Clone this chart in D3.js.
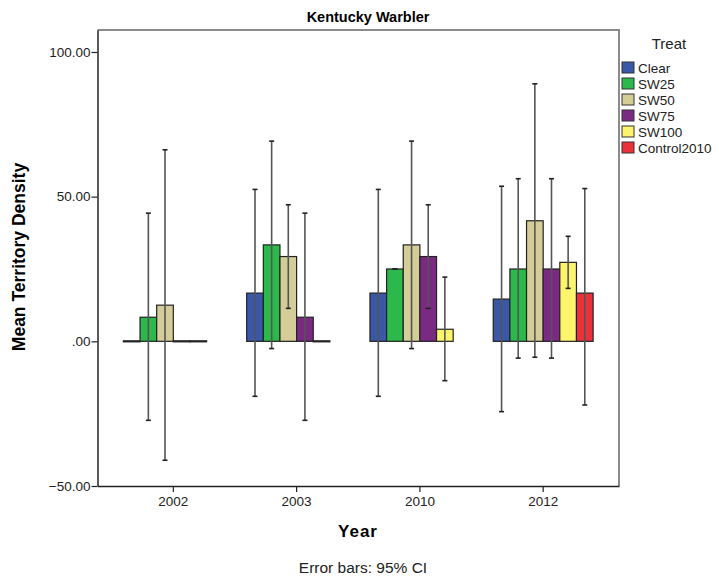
<!DOCTYPE html>
<html>
<head>
<meta charset="utf-8">
<script src="https://cdnjs.cloudflare.com/ajax/libs/d3/7.8.5/d3.min.js"></script>
<style>
    body { margin: 0; background: #fff; }
    text { font-family: Arial, "Liberation Sans", sans-serif; }
</style>
</head>
<body>
<div id="chart"></div>
<script>
// data
var years = ['2002', '2003', '2010', '2012'];
var treats = ['Clear', 'SW25', 'SW50', 'SW75', 'SW100', 'Control2010'];
var treatColors = ['#3A57A8', '#2DB84B', '#D4CD97', '#7B2A84', '#FBF46C', '#EC3039'];

// mean per year, in order of treats (null = no bar)
var means2002 = [0, 8.33, 12.5, 0, 0, null];
var means2003 = [16.67, 33.33, 29.3, 8.33, 0, null];
var means2010 = [16.67, 25, 33.33, 29.3, 4.17, null];
var means2012 = [14.6, 25, 41.67, 25, 27.3, 16.67];

// 95% CI lower / upper (null = no error bar)
var lo2002 = [null, -27.3, -41.1, null, null, null];
var hi2002 = [null, 44.3, 66.2, null, null, null];
var lo2003 = [-19.0, -2.5, 11.4, -27.3, null, null];
var hi2003 = [52.5, 69.2, 47.2, 44.3, null, null];
var lo2010 = [-19.0, 25, -2.5, 11.4, -13.6, null];
var hi2010 = [52.5, 25, 69.2, 47.2, 22.2, null];
var lo2012 = [-24.3, -5.8, -5.5, -5.8, 18.3, -22.0];
var hi2012 = [53.6, 56.2, 89.0, 56.2, 36.3, 52.8];

var yTicks = [-50, 0, 50, 100];

var allMeans = [means2002, means2003, means2010, means2012];
var allLo = [lo2002, lo2003, lo2010, lo2012];
var allHi = [hi2002, hi2003, hi2010, hi2012];

var rows = [];
years.forEach(function (y, i) {
    treats.forEach(function (t, j) {
        if (allMeans[i][j] === null) return;
        rows.push({year: y, treat: t, color: treatColors[j], mean: allMeans[i][j], lo: allLo[i][j], hi: allHi[i][j]});
    });
});

var width = 719, height = 576,
    plotLeft = 97.5, plotRight = 619, plotTop = 30, plotBottom = 486;

var svg = d3.select('#chart').append('svg')
    .attr('width', width)
    .attr('height', height);

var xScale = d3.scaleBand().domain(years).range([plotLeft, plotRight]).paddingInner(0.19).paddingOuter(0.21),
    inner = d3.scaleBand().domain(treats).range([0, xScale.bandwidth()]),
    yScale = d3.scaleLinear().domain([-50, 107.6]).range([plotBottom, plotTop]);

// frame: top and right grey
svg.append('path')
    .attr('d', 'M' + plotLeft + ',' + plotTop + 'H' + plotRight + 'V' + plotBottom)
    .attr('fill', 'none')
    .attr('stroke', '#8a8a8a')
    .attr('stroke-width', 2);

// bars (zero means still show as a flat black bar)
svg.append('g').selectAll('rect')
    .data(rows)
    .enter().append('rect')
    .attr('x', function (d) { return xScale(d.year) + inner(d.treat); })
    .attr('width', inner.bandwidth())
    .attr('y', function (d) { return d.mean === 0 ? yScale(0) - 0.5 : yScale(Math.max(0, d.mean)); })
    .attr('height', function (d) { return Math.max(1, Math.abs(yScale(d.mean) - yScale(0))); })
    .attr('fill', function (d) { return d.mean === 0 ? '#222' : d.color; })
    .attr('stroke', '#222')
    .attr('stroke-width', 1.2);

// error bars
var eb = svg.append('g').selectAll('g')
    .data(rows.filter(function (d) { return d.lo !== null; }))
    .enter().append('g')
    .attr('stroke', '#555')
    .attr('stroke-width', 1.6);

eb.append('line')
    .attr('x1', function (d) { return xScale(d.year) + inner(d.treat) + inner.bandwidth() / 2; })
    .attr('x2', function (d) { return xScale(d.year) + inner(d.treat) + inner.bandwidth() / 2; })
    .attr('y1', function (d) { return yScale(d.lo); })
    .attr('y2', function (d) { return yScale(d.hi); });

['lo', 'hi'].forEach(function (k) {
    eb.append('line')
        .attr('x1', function (d) { return xScale(d.year) + inner(d.treat) + inner.bandwidth() / 2 - 2.5; })
        .attr('x2', function (d) { return xScale(d.year) + inner(d.treat) + inner.bandwidth() / 2 + 2.5; })
        .attr('y1', function (d) { return yScale(d[k]); })
        .attr('y2', function (d) { return yScale(d[k]); })
        .attr('stroke', '#222');
});

// axes
var yAxis = d3.axisLeft(yScale).tickValues(yTicks).tickSize(6).tickSizeOuter(0)
    .tickFormat(function (d) { return d === 0 ? '.00' : d3.format('.2f')(d); });
var gy = svg.append('g')
    .attr('transform', 'translate(' + plotLeft + ',0)')
    .call(yAxis);
gy.select('.domain').attr('stroke', '#222').attr('stroke-width', 1.5);
gy.selectAll('.tick line').attr('stroke', '#222').attr('stroke-width', 1.2);
gy.selectAll('.tick text').attr('font-size', 13.5).attr('fill', '#222').attr('x', -7);

var xAxis = d3.axisBottom(xScale).tickSize(6).tickSizeOuter(0);
var gx = svg.append('g')
    .attr('transform', 'translate(0,' + plotBottom + ')')
    .call(xAxis);
gx.select('.domain').attr('stroke', '#222').attr('stroke-width', 1.5);
gx.selectAll('.tick line').attr('stroke', '#222').attr('stroke-width', 1.2);
gx.selectAll('.tick text').attr('font-size', 13.5).attr('fill', '#222').attr('y', 10);

// titles
svg.append('text')
    .attr('x', 368).attr('y', 22)
    .attr('text-anchor', 'middle')
    .attr('font-size', 14.5).attr('font-weight', 'bold')
    .text('Kentucky Warbler');

svg.append('text')
    .attr('transform', 'translate(25,' + 257 + ') rotate(-90)')
    .attr('text-anchor', 'middle')
    .attr('font-size', 17.5).attr('font-weight', 'bold')
    .text('Mean Territory Density');

svg.append('text')
    .attr('x', 358).attr('y', 537)
    .attr('text-anchor', 'middle')
    .attr('font-size', 17).attr('font-weight', 'bold')
    .attr('letter-spacing', 1)
    .text('Year');

svg.append('text')
    .attr('x', 363).attr('y', 573)
    .attr('text-anchor', 'middle')
    .attr('font-size', 15.5)
    .attr('fill', '#222')
    .text('Error bars: 95% CI');

// legend
var legend = svg.append('g');
legend.append('text')
    .attr('x', 669).attr('y', 49)
    .attr('text-anchor', 'middle')
    .attr('font-size', 15)
    .attr('fill', '#222')
    .text('Treat');

var li = legend.selectAll('g.item')
    .data(treats)
    .enter().append('g')
    .attr('class', 'item')
    .attr('transform', function (d, i) { return 'translate(622,' + (62 + i * 16) + ')'; });
li.append('rect')
    .attr('width', 12).attr('height', 11)
    .attr('fill', function (d, i) { return treatColors[i]; })
    .attr('stroke', '#333');
li.append('text')
    .attr('x', 16).attr('y', 10.5)
    .attr('font-size', 13.5)
    .attr('fill', '#222')
    .text(function (d) { return d; });
</script>
</body>
</html>
